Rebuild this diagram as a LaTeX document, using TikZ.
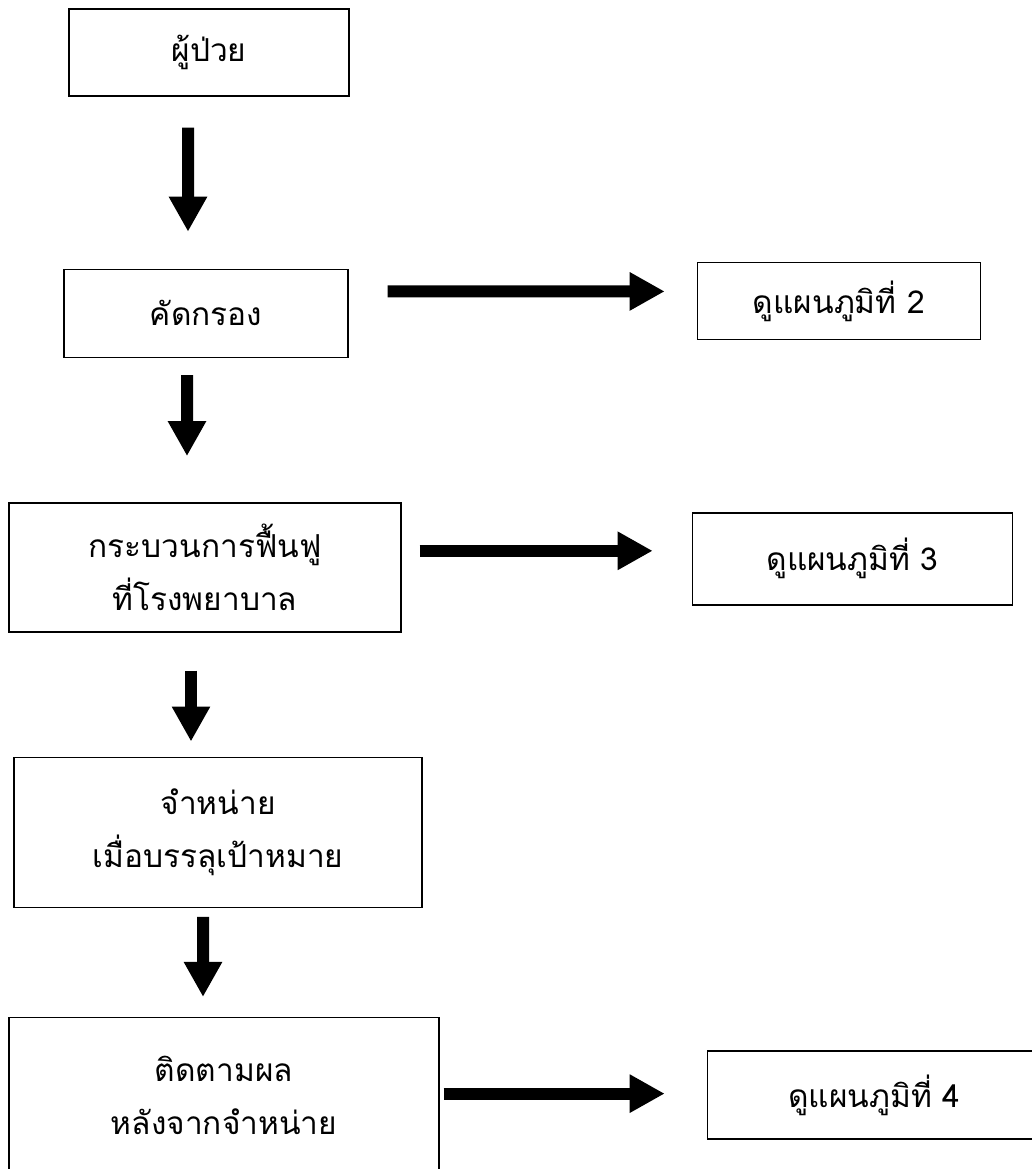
\documentclass[tikz,border=0pt]{standalone}
\usepackage{fontspec}
\newfontfamily\thaifont[Script=Thai]{Loma}
\usepackage{tikz}
\usetikzlibrary{positioning, arrows.meta}

\begin{document}
\begin{tikzpicture}[
				block/.style={rectangle, draw=black, line width=0.8pt, align=center, font=\thaifont\fontsize{18}{30}\selectfont},
				arrow/.style={-{Triangle[length=0.7cm, width=0.72cm]}, line width=0.24cm}
				]
				\useasboundingbox (0,0) rectangle (20.64,-23.38);
				% Nodes
				\node (patient) [block, minimum width=5.6cm, minimum height=1.74cm] at (4.18,-1.05) {ผู้ป่วย};
				\node (screen) [block, minimum width=5.68cm, minimum height=1.76cm, below=3.44cm of patient, xshift=-0.06cm] {คัดกรอง};
				\node (chart2) [block, minimum width=5.66cm, minimum height=1.54cm, right=6.96cm of screen, yshift=0.25cm] {ดูแผนภูมิที่ 2};
				\node (rehab) [block, minimum width=7.84cm, minimum height=2.58cm, below=2.88cm of screen, xshift=-0.02cm] {กระบวนการฟื้นฟู\\ที่โรงพยาบาล};
				\node (chart3) [block, minimum width=6.4cm, minimum height=1.84cm, right=5.8cm of rehab, yshift=0.17cm] {ดูแผนภูมิที่ 3};
				\node (discharge) [block, minimum width=8.16cm, minimum height=3cm, below=2.48cm of rehab, xshift=0.26cm] {จำหน่าย\\เมื่อบรรลุเป้าหมาย};
				\node (followup) [block, minimum width=8.6cm, minimum height=3.1cm, below=2.18cm of discharge, xshift=0.12cm] {ติดตามผล\\หลังจากจำหน่าย};
				\node (chart4) [block, minimum width=6.68cm, minimum height=1.76cm, right=5.34cm of followup] {ดูแผนภูมิที่ 4};
				
				% Arrows
				\draw [arrow, shorten <=0.62cm, shorten >=0.74cm] ([xshift=-0.42cm]patient.south) -- ([xshift=-0.36cm]screen.north);
				\draw [arrow, shorten <=0.34cm, shorten >=0.92cm] ([xshift=-0.38cm]screen.south) -- ([xshift=-0.36cm]rehab.north);
				\draw [arrow, shorten <=0.76cm, shorten >=0.3cm] ([xshift=-0.28cm]rehab.south) -- ([xshift=-0.54cm]discharge.north);
				\draw [arrow, shorten <=0.18cm, shorten >=0.4cm] ([xshift=-0.3cm]discharge.south) -- ([xshift=-0.42cm]followup.north);
				\draw [arrow, shorten <=0.78cm, shorten >=0.64cm] ([yshift=0.44cm]screen.east) -- ([yshift=0.19cm]chart2.west);
				\draw [arrow, shorten <=0.36cm, shorten >=0.78cm] ([yshift=0.33cm]rehab.east) -- ([yshift=0.16cm]chart3.west);
				\draw [arrow, shorten <=0.08cm, shorten >=0.84cm] ([yshift=0.03cm]followup.east) -- ([yshift=0.03cm]chart4.west);
			\end{tikzpicture}
\end{document}
